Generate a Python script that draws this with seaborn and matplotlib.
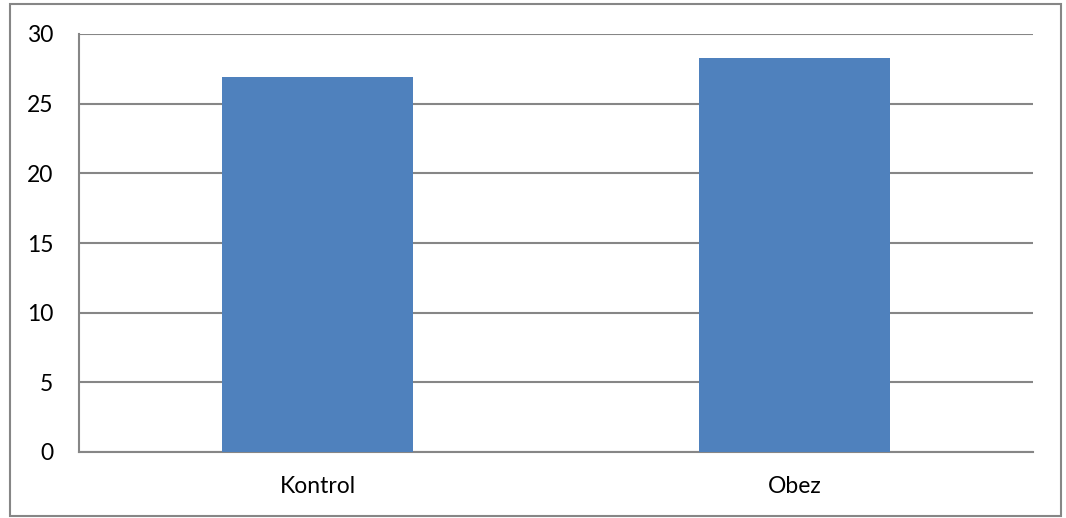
import matplotlib
matplotlib.use("Agg")
import matplotlib.pyplot as plt
import seaborn as sns
import pandas as pd
from matplotlib.patches import Rectangle

categories = ["Kontrol", "Obez"]
values = [26.9, 28.25]
y_ticks = [0, 5, 10, 15, 20, 25, 30]

sns.set_theme(style="white")
plt.rcParams['font.family'] = ['Lato', 'DejaVu Sans']

W, H = 1066, 518
fig = plt.figure(figsize=(W / 100, H / 100), dpi=100)
ax = fig.add_axes([79 / W, (H - 452) / H, (1033 - 79) / W, (452 - 34) / H])

df = pd.DataFrame({"cat": categories, "val": values})
sns.barplot(data=df, x="cat", y="val", color="#4F81BD", saturation=1, width=0.4,
            ax=ax, zorder=3, linewidth=0)

ax.set_ylim(0, 30)
ax.set_xlim(-0.5, 1.5)
ax.set_yticks(y_ticks)
ax.set_yticklabels([str(t) for t in y_ticks])
ax.set_xlabel("")
ax.set_ylabel("")
ax.yaxis.grid(True, color="#868686", linewidth=1.5, zorder=0)
ax.set_axisbelow(True)
for s in ["top", "right"]:
    ax.spines[s].set_visible(False)
for s in ["left", "bottom"]:
    ax.spines[s].set_color("#868686")
    ax.spines[s].set_linewidth(1.5)
ax.tick_params(axis="both", length=0, labelsize=16.5, colors="black")
ax.tick_params(axis="y", pad=18.5)
ax.tick_params(axis="x", pad=17)

fig.patches.append(Rectangle((10 / W, 2 / H), (1061 - 10) / W, (514 - 2) / H,
                             transform=fig.transFigure, fill=False,
                             edgecolor="#868686", linewidth=1.5))

fig.savefig("out.png", dpi=100, facecolor="white")
